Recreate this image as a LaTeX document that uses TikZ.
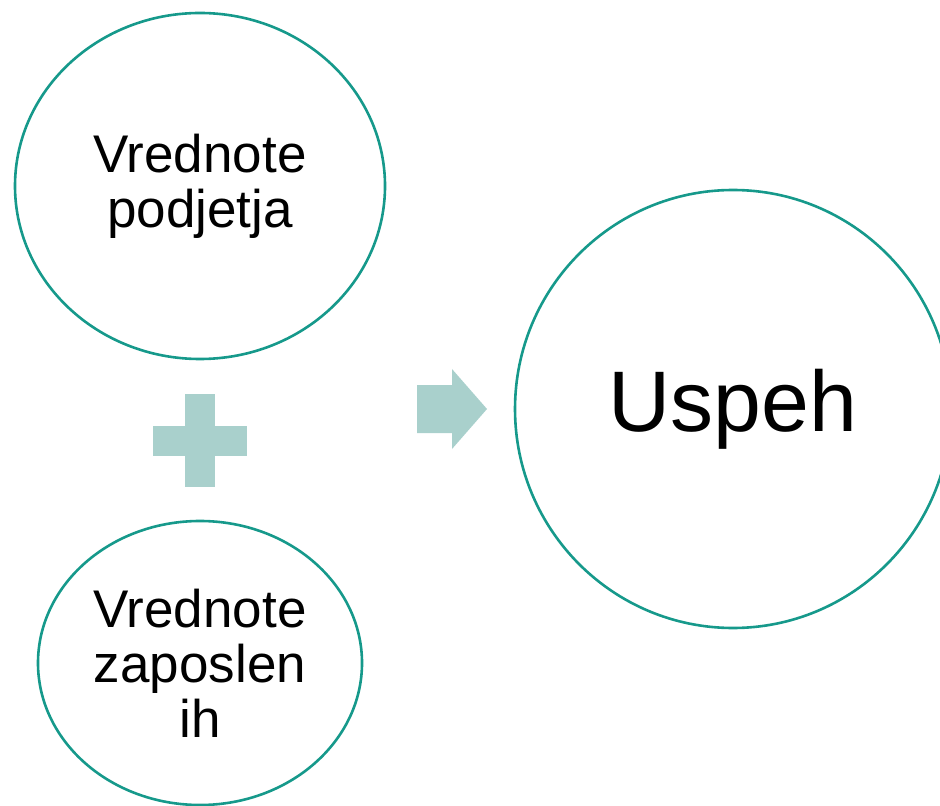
\documentclass[tikz,border=0pt]{standalone}
\usepackage{fontspec}
\setmainfont{Liberation Sans}
\usepackage{tikz}
\usetikzlibrary{shapes.geometric}

\definecolor{rimteal}{HTML}{16998B}
\definecolor{signteal}{HTML}{A9D0CC}

\tikzset{
  value/.style={ellipse, draw=rimteal, line width=1.3pt, inner sep=0pt,
    align=center, font=\fontsize{26.5}{27.5}\selectfont},
  sign/.style={fill=signteal, draw=none}
}

\begin{document}
\begin{tikzpicture}[x=0.5pt,y=-0.5pt]
                \useasboundingbox (0,0) rectangle (940,806);
                \clip (0,0) rectangle (940,806);
                % two values on the left
                \node[value, minimum width=185pt, minimum height=173pt] (company) at (200,186) {Vrednote\\podjetja};
                \node[value, minimum width=162pt, minimum height=142pt] (staff) at (200,663) {Vrednote\\zaposlen\\ih};
                % result on the right
                \node[value, minimum width=218pt, minimum height=219pt, font=\fontsize{43}{46}\selectfont] (success) at (733,409) {Uspeh};
                % plus sign
                \fill[sign] (153,426) rectangle (247,456);
                \fill[sign] (185,394) rectangle (215,487);
                % arrow
                \fill[sign] (417,385) -- (452,385) -- (452,369) -- (487,409) -- (452,449) -- (452,433) -- (417,433) -- cycle;
            \end{tikzpicture}
\end{document}
